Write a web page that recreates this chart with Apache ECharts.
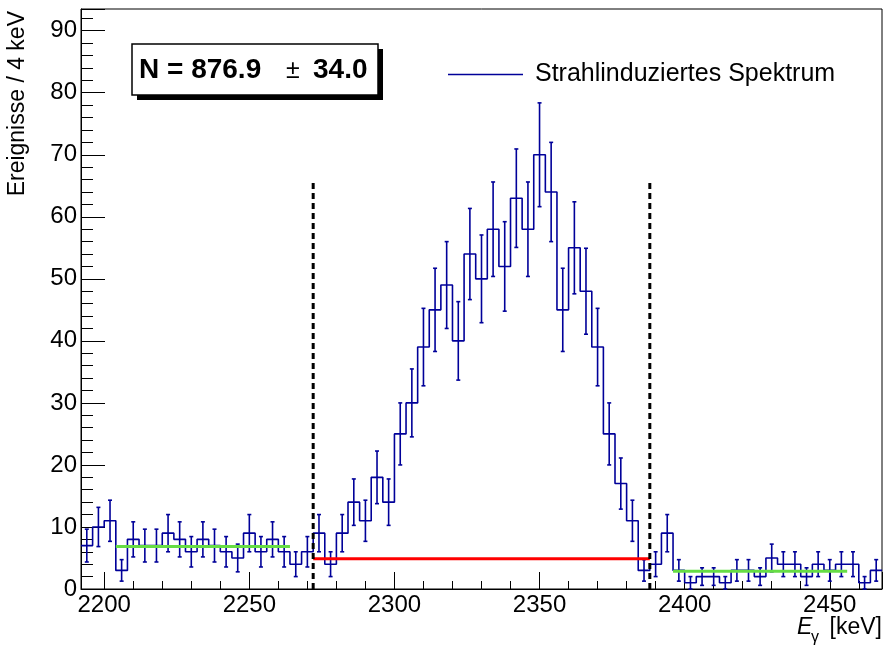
<!DOCTYPE html>
<html>
<head>
<meta charset="utf-8">
<script src="https://cdn.jsdelivr.net/npm/echarts@6/dist/echarts.min.js"></script>
<style>
html, body { margin: 0; padding: 0; background: #fff; }
#main { width: 886px; height: 649px; }
</style>
</head>
<body>
<div id="main"></div>
<script>
// Histogramm in 4 keV Bins, erstes Bin beginnt bei 2192 keV
var binStart = 2192;
var binWidth = 4;
var counts = [
  7, 10, 11, 3, 8, 7, 7, 9, 8, 6, 8, 7, 6, 5, 9, 6, 8, 6, 4, 6,
  9, 4, 9, 14, 11, 18, 14, 25, 30, 39, 45, 49, 40, 54, 50, 58, 52, 63, 58, 70,
  64, 45, 55, 48, 39, 25, 17, 11, 3,
  4, 9, 3, 1, 2, 2, 1, 3, 3, 2, 5, 4, 4, 2, 4, 3, 4, 4, 1, 3
];

// Fenster (gestrichelt) und Untergrund-Niveaus
var windowEdges = [2272, 2388];
var windowTop = 65.5;
var bgLeftX = [2204, 2264];
var bgLeftY = 6.87;
var bgRightX = [2396, 2456];
var bgRightY = 2.87;
var bgPeakX = [2272, 2388];
var bgPeakY = 4.87;

var histName = 'Strahlinduziertes Spektrum';
var histColor = '#000099';
var font = '"Liberation Sans", Arial, Helvetica, sans-serif';

var chart = echarts.init(document.getElementById('main'));

// Stufenlinie ueber die Bin-Kanten
var stepData = [];
for (var i = 0; i < counts.length; i++) {
  stepData.push([binStart + i * binWidth, counts[i]]);
}
stepData.push([binStart + counts.length * binWidth, counts[counts.length - 1]]);

// Fehlerbalken (Poisson)
var errData = counts.map(function (c, i) {
  var e = Math.sqrt(c);
  return [binStart + (i + 0.5) * binWidth, c - e, c + e];
});

function seg(x, y) {
  return [[x[0], y], [x[1], y]];
}

var option = {
  animation: false,
  backgroundColor: '#fff',
  grid: {
    left: 81, right: 4, top: 9, bottom: 60,
    show: true, borderColor: '#000', borderWidth: 1, backgroundColor: 'transparent'
  },
  legend: {
    data: [histName],
    left: 443, top: 57,
    icon: 'rect', itemWidth: 75, itemHeight: 1.5,
    selectedMode: false,
    textStyle: { fontFamily: font, fontSize: 25, color: '#000', padding: [0, 0, 0, 7] }
  },
  xAxis: {
    type: 'value', min: binStart, max: binStart + counts.length * binWidth,
    splitNumber: 5,
    axisLine: { lineStyle: { color: '#000', width: 1 } },
    axisTick: { inside: true, length: 17, lineStyle: { color: '#000' } },
    minorTick: { show: true, splitNumber: 5, length: 8, lineStyle: { color: '#000' } },
    splitLine: { show: false },
    axisLabel: {
      showMinLabel: false, showMaxLabel: false,
      fontFamily: font, fontSize: 24, color: '#000', margin: 4,
      formatter: function (v) { return String(v); }
    }
  },
  yAxis: {
    type: 'value', min: 0, max: 93.5, interval: 10,
    axisLine: { show: true, lineStyle: { color: '#000', width: 1 } },
    axisTick: { inside: true, length: 24, lineStyle: { color: '#000' } },
    minorTick: { show: true, splitNumber: 5, length: 12, lineStyle: { color: '#000' } },
    splitLine: { show: false },
    axisLabel: { showMaxLabel: false, fontFamily: font, fontSize: 24, color: '#000', margin: 4 }
  },
  series: [
    {
      name: histName, type: 'line', step: 'end', data: stepData,
      symbol: 'none', z: 2,
      itemStyle: { color: histColor },
      lineStyle: { color: histColor, width: 1.6 }
    },
    {
      name: 'Fehler', type: 'custom', data: errData, z: 2,
      encode: { x: 0, y: [1, 2] },
      renderItem: function (params, api) {
        var x = api.value(0);
        var lo = api.coord([x, api.value(1)]);
        var hi = api.coord([x, api.value(2)]);
        var cap = 2;
        var st = { stroke: histColor, lineWidth: 1.6 };
        return {
          type: 'group',
          children: [
            { type: 'line', shape: { x1: lo[0], y1: lo[1], x2: hi[0], y2: hi[1] }, style: st },
            { type: 'line', shape: { x1: lo[0] - cap, y1: lo[1], x2: lo[0] + cap, y2: lo[1] }, style: st },
            { type: 'line', shape: { x1: hi[0] - cap, y1: hi[1], x2: hi[0] + cap, y2: hi[1] }, style: st }
          ]
        };
      }
    },
    {
      name: 'bgL', type: 'line', data: seg(bgLeftX, bgLeftY), symbol: 'none', z: 3,
      lineStyle: { color: '#66dd44', width: 3 }
    },
    {
      name: 'bgR', type: 'line', data: seg(bgRightX, bgRightY), symbol: 'none', z: 3,
      lineStyle: { color: '#66dd44', width: 3 }
    },
    {
      name: 'bgP', type: 'line', data: seg(bgPeakX, bgPeakY), symbol: 'none', z: 3,
      lineStyle: { color: '#ff0000', width: 3 }
    },
    {
      name: 'winL', type: 'line', data: [[windowEdges[0], 0], [windowEdges[0], windowTop]],
      symbol: 'none', z: 4,
      lineStyle: { color: '#000', width: 3, type: [6, 4] }
    },
    {
      name: 'winR', type: 'line', data: [[windowEdges[1], 0], [windowEdges[1], windowTop]],
      symbol: 'none', z: 4,
      lineStyle: { color: '#000', width: 3, type: [6, 4] }
    }
  ],
  graphic: [
    // Achsentitel
    {
      type: 'text', x: 18, y: 11, rotation: Math.PI / 2,
      style: { text: 'Ereignisse / 4 keV', fontFamily: font, fontSize: 23, fill: '#000',
               align: 'right', verticalAlign: 'middle' }
    },
    {
      type: 'text', x: 797, y: 628,
      style: { text: 'E', fontFamily: font, fontSize: 23, fontStyle: 'italic', fill: '#000',
               align: 'left', verticalAlign: 'middle' }
    },
    {
      type: 'text', x: 811, y: 638,
      style: { text: 'γ', fontFamily: font, fontSize: 16, fill: '#000',
               align: 'left', verticalAlign: 'middle' }
    },
    {
      type: 'text', x: 882, y: 628,
      style: { text: '[keV]', fontFamily: font, fontSize: 23, fill: '#000',
               align: 'right', verticalAlign: 'middle' }
    },
    // Ergebnis-Box
    {
      type: 'rect', shape: { x: 137, y: 49, width: 246, height: 51 },
      style: { fill: '#000' }, z: 10
    },
    {
      type: 'rect', shape: { x: 132, y: 44, width: 246, height: 51 },
      style: { fill: '#fff', stroke: '#000', lineWidth: 1.5 }, z: 11
    },
    {
      type: 'text', x: 139, y: 70, z: 12,
      style: { text: 'N = 876.9', fontFamily: font, fontSize: 28, fontWeight: 'bold', fill: '#000',
               align: 'left', verticalAlign: 'middle' }
    },
    {
      type: 'text', x: 286, y: 71, z: 12,
      style: { text: '±', fontFamily: font, fontSize: 25, fill: '#000',
               align: 'left', verticalAlign: 'middle' }
    },
    {
      type: 'text', x: 313, y: 70, z: 12,
      style: { text: '34.0', fontFamily: font, fontSize: 28, fontWeight: 'bold', fill: '#000',
               align: 'left', verticalAlign: 'middle' }
    }
  ]
};

chart.setOption(option);
</script>
</body>
</html>
